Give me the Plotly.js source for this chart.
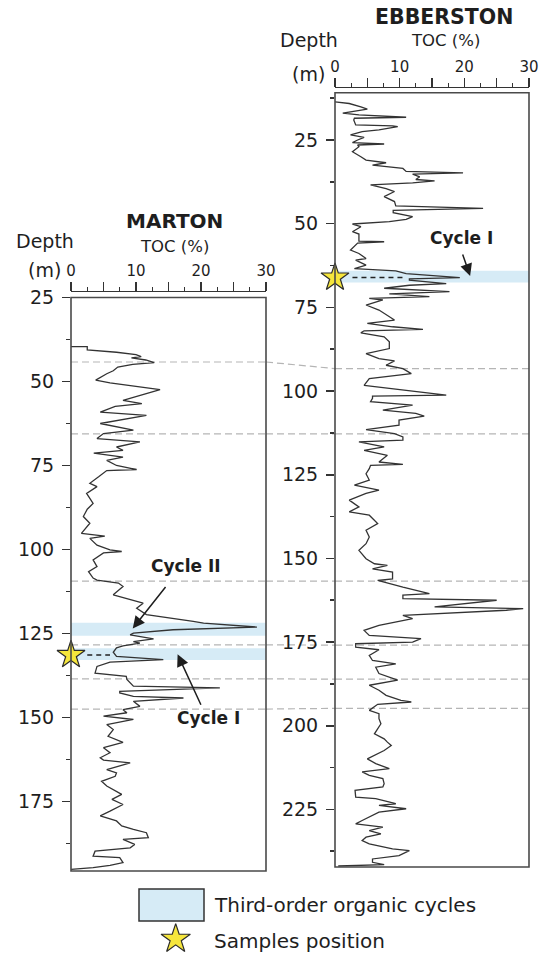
<!DOCTYPE html>
<html><head><meta charset="utf-8">
<script src="https://cdn.plot.ly/plotly-3.0.1.min.js"></script>
<style>html,body{margin:0;padding:0;background:#fff;} #chart{width:539px;height:953px;}</style>
</head><body><div id="chart"></div>
<script>
// ---------- DATA ----------
const martonDepth = [39.6,39.6,40.6,41.3,42.0,42.6,43.0,43.6,44.4,44.9,45.7,46.8,47.7,49.6,50.4,51.1,52.4,55.6,56.6,57.4,59.1,60.1,61.0,62.5,64.5,65.5,67.0,68.0,69.5,70.5,71.3,72.5,73.5,75.0,76.2,76.5,78.3,80.3,81.3,83.3,86.3,88.0,90.2,92.2,95.2,96.0,96.7,98.7,100.1,100.6,101.0,103.1,105.1,106.6,108.5,109.1,110.0,111.0,113.5,114.0,116.0,117.5,119.4,121.4,121.9,123.1,123.9,124.9,125.4,126.6,127.4,127.9,128.7,129.3,130.6,131.8,132.8,133.5,134.8,136.8,137.8,138.7,140.7,141.2,142.2,142.7,143.7,144.2,145.2,146.7,147.7,148.6,149.6,150.6,152.1,153.6,155.6,157.4,159.0,160.5,162.0,162.7,163.5,165.5,166.5,167.5,169.0,170.4,171.4,172.9,174.4,175.9,177.9,179.3,180.8,182.3,183.3,184.3,185.8,186.3,187.8,188.8,189.8,191.3,191.7,193.2,194.0,194.7,195.2];
const martonToc = [0.0,2.5,2.5,7.0,10.0,10.8,9.3,11.5,12.8,9.5,7.2,6.5,5.5,3.8,6.0,8.6,13.7,8.0,10.9,6.8,4.5,11.6,9.0,4.5,9.6,5.0,4.0,10.6,7.0,8.0,3.5,8.0,5.5,7.0,10.1,5.5,4.3,2.9,4.0,2.4,3.4,2.5,1.9,2.9,1.6,5.2,2.9,4.0,6.0,7.8,5.0,3.4,4.0,2.7,3.4,4.0,7.3,8.0,6.5,7.5,11.1,10.1,11.6,18.8,20.4,28.6,15.7,9.6,9.1,12.7,9.6,10.6,8.0,7.0,6.5,7.0,14.2,6.0,4.0,3.7,8.5,8.6,9.6,22.9,7.5,7.5,9.6,17.3,9.6,10.6,8.0,8.6,5.0,9.6,5.5,6.5,5.7,8.0,5.0,6.0,4.5,5.0,9.1,5.5,7.0,6.8,4.7,5.5,6.5,7.8,6.3,8.0,6.0,4.5,7.0,7.8,9.6,11.6,11.9,8.0,9.8,9.1,3.7,3.4,7.5,8.0,6.0,3.4,0.0];

const ebberstonDepth = [13.6,14.1,15.1,15.8,17.0,17.5,18.2,18.5,19.0,20.5,20.8,21.0,22.0,22.5,23.5,24.2,25.0,25.8,26.2,26.5,27.0,28.5,30.0,31.0,31.8,32.5,33.5,34.4,34.8,35.2,36.0,36.8,37.2,37.8,38.4,39.5,40.4,41.9,43.4,44.7,45.4,46.0,46.7,47.9,48.7,49.4,50.1,50.9,52.4,53.1,55.2,55.4,55.8,57.9,58.9,60.4,60.9,62.4,63.4,64.1,64.9,66.1,66.5,66.9,67.9,68.4,69.3,70.3,71.0,71.8,72.3,72.8,74.3,75.8,78.8,79.8,80.8,81.6,82.0,82.6,83.8,85.3,87.3,88.8,90.3,91.0,92.3,93.3,94.8,96.3,98.3,99.7,101.2,101.5,102.2,103.2,104.2,105.7,106.7,107.5,108.7,110.2,111.5,112.7,113.7,114.7,115.2,116.7,117.7,119.2,121.2,121.9,122.2,123.2,124.7,126.6,128.1,129.6,130.6,132.6,134.6,136.1,137.1,139.6,141.6,143.6,145.6,147.6,150.1,151.6,152.1,153.1,154.1,156.1,156.6,158.6,160.5,161.0,162.0,162.5,163.5,164.5,165.0,165.5,167.0,168.0,170.0,171.5,173.0,174.0,175.0,175.5,176.5,177.3,179.0,180.5,181.5,182.5,184.4,186.4,187.9,189.4,190.9,192.4,192.9,193.6,195.4,196.4,197.9,199.4,202.4,203.9,204.9,205.9,207.4,209.9,211.3,212.8,213.8,214.8,215.8,217.3,218.3,219.3,221.3,221.8,223.3,223.8,224.8,225.8,228.3,229.3,230.3,231.3,232.3,233.3,234.3,235.3,236.8,237.3,238.8,239.8,240.8,241.5,241.9];
const ebberstonToc = [0.0,2.2,4.0,5.0,1.2,3.7,11.0,3.0,2.9,3.2,8.9,9.7,6.8,4.2,2.4,4.5,3.5,2.7,7.6,3.5,3.7,2.7,4.0,4.8,7.9,5.8,10.5,11.0,19.8,12.0,13.1,12.5,15.4,12.0,5.5,7.9,9.2,7.6,9.2,9.4,22.9,9.0,9.0,12.0,11.0,8.4,2.7,4.0,2.7,3.7,3.7,7.6,3.5,2.4,3.7,4.8,3.2,4.8,3.0,9.4,11.0,19.3,11.5,11.5,17.2,11.5,7.6,17.7,8.4,14.6,5.3,7.4,4.8,6.8,9.2,5.0,8.9,13.6,4.5,4.0,7.6,8.4,8.4,4.8,6.8,9.2,7.9,10.5,11.8,5.3,4.5,11.0,17.2,5.8,5.8,5.5,12.0,7.4,12.5,13.8,9.9,9.9,4.8,9.2,10.5,10.5,3.7,7.6,4.5,8.1,6.8,10.5,5.5,5.3,4.8,5.3,3.0,6.8,4.8,2.2,3.7,2.2,5.3,6.6,4.8,5.3,4.8,3.7,4.8,6.1,8.1,5.8,8.9,8.9,6.6,10.5,14.6,10.5,10.5,25.0,20.3,15.4,29.1,26.5,10.5,12.0,6.8,4.5,5.3,13.3,12.0,3.2,3.2,6.8,5.3,5.8,9.4,6.3,6.8,9.7,5.3,6.8,7.9,10.2,11.8,6.6,5.3,6.8,6.8,7.1,6.1,7.6,8.1,8.7,7.6,5.0,6.3,8.4,4.2,5.3,7.4,7.6,7.4,3.1,3.2,6.3,9.4,6.8,11.0,6.8,4.2,3.2,7.4,5.3,7.1,4.8,4.2,5.3,8.9,11.5,9.9,5.8,5.8,7.6,0.5];

const martonCycles = [[121.8,125.7],[129.4,132.9]];      // third-order organic cycles (depth m)
const ebberstonCycles = [[64.1,67.6]];
const martonSampleDepth = [131.4];
const ebberstonSampleDepth = [66.1];
const martonSampleLinkToc = [2.5,6.0];
const ebberstonSampleLinkToc = [2.7,10.5];
const corrMarton = [44.2,65.6,109.4,128.4,138.5,147.5];
const corrEbberston = [93.3,112.8,156.8,175.9,186.1,194.8];
const tocTickVals = [0,5,10,15,20,25,30];
const tocTickText = ['0','','10','','20','','30'];
const tocMinorVals = [2.5,7.5,12.5,17.5,22.5,27.5];
const martonDepthTicks = [25,50,75,100,125,150,175];
const ebberstonDepthTicks = [25,50,75,100,125,150,175,200,225];

// ---------- LAYOUT HELPERS ----------
const W=539,H=953;
const PX=v=>v/W, PY=v=>1-v/H;
const FONT='DejaVu Sans', TXT='#1e1e1e', AX='#333';

const mXdom=[PX(71),PX(266)], mYdom=[PY(871),PY(297.5)], mYrange=[195.7,25];
const eXdom=[PX(335),PX(529)], eYdom=[PY(867),PY(92.7)], eYrange=[242.2,10.87];
function depthPaper(d,range,dom){const t=(d-range[0])/(range[1]-range[0]);return dom[0]+t*(dom[1]-dom[0]);}

function xAxis(dom,pos){return {domain:dom,range:[0,30],side:'top',anchor:'free',position:pos,
  tickmode:'array',tickvals:tocTickVals,ticktext:tocTickText,ticks:'outside',ticklen:9,tickwidth:1.2,tickcolor:AX,
  showline:true,linecolor:AX,linewidth:1.3,showgrid:false,zeroline:false,
  tickfont:{family:FONT,size:15,color:TXT},
  minor:{tickvals:tocMinorVals,ticks:'outside',ticklen:4,tickwidth:1.2,tickcolor:AX,showgrid:false}};}
function yAxis(dom,range,ticks,anchor){return {domain:dom,range:range,autorange:false,anchor:anchor,
  tickmode:'array',tickvals:ticks,ticks:'outside',ticklen:8,tickwidth:1.6,tickcolor:AX,
  showline:false,showgrid:false,zeroline:false,ticklabelstandoff:4,
  tickfont:{family:FONT,size:19,color:TXT},
  minor:{tick0:12.5,dtick:25,ticks:'outside',ticklen:4,tickwidth:1.6,tickcolor:AX,showgrid:false}};}

// ---------- TRACES ----------
const starStyle={symbol:'star',size:21,color:'#f6e63c',line:{color:'#2b2b2b',width:1.2}};
const traces=[
 {x:martonToc,y:martonDepth,xaxis:'x',yaxis:'y',mode:'lines',line:{color:'#333',width:1.3},hoverinfo:'skip'},
 {x:ebberstonToc,y:ebberstonDepth,xaxis:'x2',yaxis:'y2',mode:'lines',line:{color:'#333',width:1.3},hoverinfo:'skip'},
 {x:martonSampleLinkToc,y:martonSampleLinkToc.map(()=>martonSampleDepth[0]),xaxis:'x',yaxis:'y',mode:'lines',line:{color:'#222',width:1.6,dash:'5px,4px'}},
 {x:ebberstonSampleLinkToc,y:ebberstonSampleLinkToc.map(()=>ebberstonSampleDepth[0]),xaxis:'x2',yaxis:'y2',mode:'lines',line:{color:'#222',width:1.6,dash:'5px,4px'}},
 {x:martonSampleDepth.map(()=>0),y:martonSampleDepth,xaxis:'x',yaxis:'y',mode:'markers',marker:starStyle,cliponaxis:false},
 {x:ebberstonSampleDepth.map(()=>0),y:ebberstonSampleDepth,xaxis:'x2',yaxis:'y2',mode:'markers',marker:starStyle,cliponaxis:false},
 // legend star on a full-figure pixel-unit axis pair
 {x:[175.7],y:[939],xaxis:'x3',yaxis:'y3',mode:'markers',marker:Object.assign({},starStyle,{size:22}),cliponaxis:false}
];

// ---------- SHAPES ----------
const shapes=[];
const band='#d6ebf6';
martonCycles.forEach(c=>shapes.push({type:'rect',xref:'x domain',yref:'y',x0:0,x1:1,y0:c[0],y1:c[1],fillcolor:band,line:{width:0},layer:'below'}));
ebberstonCycles.forEach(c=>shapes.push({type:'rect',xref:'x2 domain',yref:'y2',x0:0,x1:1,y0:c[0],y1:c[1],fillcolor:band,line:{width:0},layer:'below'}));
const corrLine={color:'#b5b5b5',width:1.2,dash:'7px,4px'};
corrMarton.forEach((m,i)=>{
  const e=corrEbberston[i];
  shapes.push({type:'line',xref:'x domain',yref:'y',x0:0,x1:1,y0:m,y1:m,line:corrLine,layer:'below'});
  shapes.push({type:'line',xref:'paper',yref:'paper',x0:mXdom[1],x1:eXdom[0],
    y0:depthPaper(m,mYrange,mYdom),y1:depthPaper(e,eYrange,eYdom),line:corrLine,layer:'below'});
  shapes.push({type:'line',xref:'x2 domain',yref:'y2',x0:0,x1:1,y0:e,y1:e,line:corrLine,layer:'below'});
});
// frames
shapes.push({type:'rect',xref:'x domain',yref:'y domain',x0:0,x1:1,y0:0,y1:1,line:{color:'#4a4a4a',width:1.6},layer:'above'});
shapes.push({type:'rect',xref:'x2 domain',yref:'y2 domain',x0:0,x1:1,y0:0,y1:1,line:{color:'#4a4a4a',width:1.6},layer:'above'});
// legend box
shapes.push({type:'rect',xref:'paper',yref:'paper',x0:PX(139),x1:PX(204),y0:PY(921),y1:PY(889),fillcolor:band,line:{color:'#333',width:1.5}});

// ---------- ANNOTATIONS ----------
function txt(t,x,y,size,bold,xanchor){return {text:bold?'<b>'+t+'</b>':t,xref:'paper',yref:'paper',x:PX(x),y:PY(y),
  xanchor:xanchor||'center',yanchor:'middle',showarrow:false,font:{family:FONT,size:size,color:TXT}};}
const arrowStyle={showarrow:true,text:'',arrowhead:2,arrowsize:1.6,arrowwidth:1.5,arrowcolor:'#1e1e1e',standoff:0,startstandoff:0};
const annotations=[
 txt('MARTON',174,220.7,20,true),
 txt('TOC (%)',174,246.5,16.5,false),
 txt('Depth',44.5,241,19,false),
 txt('(m)',44.5,270,19,false),
 txt('EBBERSTON',444,17,20.5,true),
 txt('TOC (%)',445.8,40.5,16.5,false),
 txt('Depth',308.8,40,19,false),
 txt('(m)',308.8,74,19,false),
 txt('Third-order organic cycles',212,905,20,false,'left'),
 txt('Samples position',212,940.5,20,false,'left'),
 {text:'<b>Cycle II</b>',xref:'x',yref:'y',x:17.7,y:105.0,showarrow:false,font:{family:FONT,size:17,color:TXT}},
 {text:'<b>Cycle I</b>',xref:'x',yref:'y',x:21.1,y:150.1,showarrow:false,font:{family:FONT,size:17,color:TXT}},
 {text:'<b>Cycle I</b>',xref:'x2',yref:'y2',x:19.5,y:54.4,showarrow:false,font:{family:FONT,size:17,color:TXT}},
 Object.assign({xref:'x',yref:'y',x:9.5,y:123.5,ax:34,ay:-43},arrowStyle),
 Object.assign({xref:'x',yref:'y',x:16.4,y:131.2,ax:24,ay:52},arrowStyle),
 Object.assign({xref:'x2',yref:'y2',x:20.9,y:65.6,ax:-8,ay:-23},arrowStyle)
];

const layout={width:W,height:H,margin:{l:0,r:0,t:0,b:0},paper_bgcolor:'#fff',plot_bgcolor:'rgba(0,0,0,0)',showlegend:false,
 xaxis:xAxis(mXdom,PY(291)),
 yaxis:yAxis(mYdom,mYrange,martonDepthTicks,'x'),
 xaxis2:xAxis(eXdom,PY(86.7)),
 yaxis2:yAxis(eYdom,eYrange,ebberstonDepthTicks,'x2'),
 xaxis3:{domain:[0,1],range:[0,W],visible:false,anchor:'y3',fixedrange:true},
 yaxis3:{domain:[0,1],range:[H,0],visible:false,anchor:'x3',fixedrange:true},
 shapes:shapes,annotations:annotations,font:{family:FONT,color:TXT}};
Plotly.newPlot('chart',traces,layout,{staticPlot:true,displayModeBar:false});
</script></body></html>
